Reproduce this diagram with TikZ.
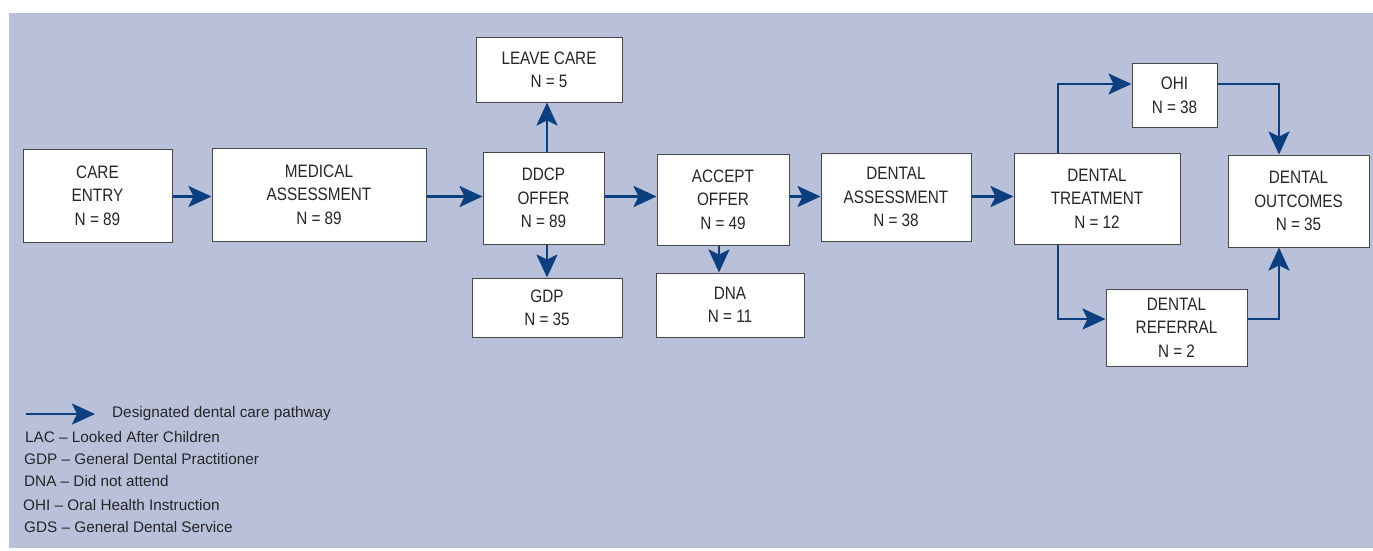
\documentclass[tikz,border=0pt]{standalone}
\usepackage{fontspec}
\setmainfont[FakeStretch=0.85]{Liberation Sans}
\newfontfamily\legendfont{Liberation Sans}
\usetikzlibrary{arrows.meta}
\definecolor{bg}{HTML}{B8C0DA}
\definecolor{arrowblue}{HTML}{0B3F80}
\definecolor{txt}{HTML}{262626}
\tikzset{
  box/.style={draw=txt!85, line width=1pt, fill=white, align=center, text=txt,
    font=\fontsize{18}{23.5}\selectfont, inner sep=0pt, text depth=0pt},
  arr/.style={draw=arrowblue, line width=2.6pt,
    -{Stealth[length=23pt,width=21pt,inset=5pt]}},
  legendtext/.style={anchor=west, text=txt, font=\legendfont\fontsize{15.3}{17}\selectfont, inner sep=0pt}
}
\begin{document}
\begin{tikzpicture}[x=1pt,y=-1pt]
\useasboundingbox (0,0) rectangle (1373,550);
\fill[bg] (9,13) rectangle (1373,548);
% boxes
\node[box, minimum width=149pt, minimum height=93pt] (care) at (97.5,195.5) {CARE\\ENTRY\\N = 89};
\node[box, minimum width=214pt, minimum height=93pt] (med) at (319,194.5) {MEDICAL\\ASSESSMENT\\N = 89};
\node[box, minimum width=121pt, minimum height=92pt] (ddcp) at (543.5,198) {DDCP\\OFFER\\N = 89};
\node[box, minimum width=146pt, minimum height=65pt] (leave) at (549,69.5) {LEAVE CARE\\N = 5};
\node[box, minimum width=150pt, minimum height=59pt] (gdp) at (547,307.5) {GDP\\N = 35};
\node[box, minimum width=132pt, minimum height=91pt] (accept) at (723,199.5) {ACCEPT\\OFFER\\N = 49};
\node[box, minimum width=148pt, minimum height=64pt] (dna) at (730,305) {DNA\\N = 11};
\node[box, minimum width=150pt, minimum height=88pt] (dass) at (896,197) {DENTAL\\ASSESSMENT\\N = 38};
\node[box, minimum width=166pt, minimum height=91pt] (treat) at (1097,198.5) {DENTAL\\TREATMENT\\N = 12};
\node[box, minimum width=85pt, minimum height=64pt] (ohi) at (1174.5,95) {OHI\\N = 38};
\node[box, minimum width=141pt, minimum height=92pt] (out) at (1298.5,201) {DENTAL\\OUTCOMES\\N = 35};
\node[box, minimum width=141pt, minimum height=77pt] (ref) at (1176.5,327.5) {DENTAL\\REFERRAL\\N = 2};
% helper coordinates
\coordinate (row) at (0,196.5);
\coordinate (ddcpx) at (547,0);
\coordinate (acceptx) at (719,0);
\coordinate (tx) at (1058,0);
\coordinate (ox) at (1279,0);
\coordinate (topy) at (0,84);
\coordinate (boty) at (0,319);
% main row arrows
\draw[arr] (care.east|-row) -- (med.west|-row);
\draw[arr] (med.east|-row) -- (ddcp.west|-row);
\draw[arr] (ddcp.east|-row) -- (accept.west|-row);
\draw[arr] (accept.east|-row) -- (dass.west|-row);
\draw[arr] (dass.east|-row) -- (treat.west|-row);
% branches
\draw[arr] (ddcp.north-|ddcpx) -- (leave.south-|ddcpx);
\draw[arr] (ddcp.south-|ddcpx) -- (gdp.north-|ddcpx);
\draw[arr] (accept.south-|acceptx) -- (dna.north-|acceptx);
\draw[arr] (treat.north-|tx) -- (tx|-topy) -- (ohi.west|-topy);
\draw[arr] (ohi.east|-topy) -- (ox|-topy) -- (out.north-|ox);
\draw[arr] (treat.south-|tx) -- (tx|-boty) -- (ref.west|-boty);
\draw[arr] (ref.east|-boty) -- (ox|-boty) -- (out.south-|ox);
% legend
\coordinate (la) at (26,414);
\coordinate (lb) at (95,414);
\draw[arr] (la) -- (lb);
\node[legendtext] (l0) at (112,414) {Designated dental care pathway};
\node[legendtext] (l1) at (25,437) {LAC – Looked After Children};
\node[legendtext] (l2) at (24,459) {GDP – General Dental Practitioner};
\node[legendtext] (l3) at (24,481) {DNA – Did not attend};
\node[legendtext] (l4) at (23,505) {OHI – Oral Health Instruction};
\node[legendtext] (l5) at (24,527) {GDS – General Dental Service};
\end{tikzpicture}
\end{document}
